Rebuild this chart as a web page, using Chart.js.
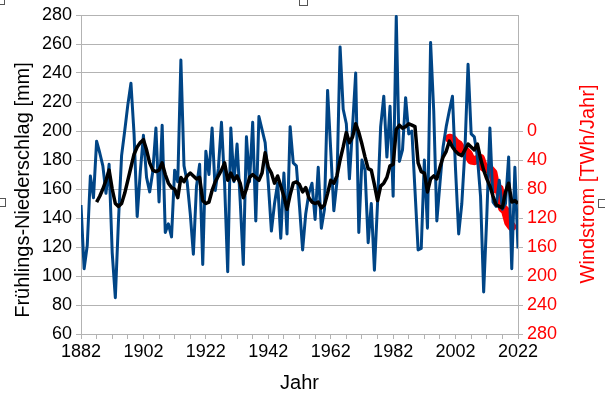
<!DOCTYPE html>
<html>
<head>
<meta charset="utf-8">
<script src="https://cdn.jsdelivr.net/npm/chart.js@4.4.1/dist/chart.umd.min.js"></script>
<style>
  html, body { margin: 0; padding: 0; background: #fff; }
  #wrap { position: relative; width: 605px; height: 397px; overflow: hidden; }
  .handle { position: absolute; width: 7px; height: 7px; border: 1px solid #555; background: #fff; }
</style>
</head>
<body>
<div id="wrap">
  <canvas id="rainChart" width="605" height="397"></canvas>
  <div class="handle" style="left:-4px;top:-4px"></div>
  <div class="handle" style="left:299px;top:-3px"></div>
  <div class="handle" style="left:-3px;top:198px"></div>
  <div class="handle" style="left:598px;top:199px"></div>
</div>
<script>
// spring precipitation per year, 1882..2022 [mm]
var firstYear = 1882;
var rain = [
  149, 105, 121, 169, 154, 193, 185, 176, 157, 177,
  116, 85, 138, 183, 200, 218, 233, 198, 141, 172,
  197, 168, 158, 172, 202, 151, 204, 130, 136, 127,
  173, 165, 249, 176, 165, 143, 115, 162, 177, 108,
  186, 170, 202, 159, 174, 206, 164, 103, 202, 165,
  191, 152, 108, 196, 165, 206, 138, 210, 201, 192,
  164, 131, 150, 164, 126, 171, 129, 203, 178, 176,
  148, 118, 143, 157, 164, 139, 175, 133, 146, 228,
  187, 145, 165, 258, 215, 205, 167, 203, 240, 130,
  180, 173, 123, 150, 104, 150, 203, 224, 182, 217,
  155, 279, 179, 187, 223, 198, 200, 159, 118, 119,
  180, 133, 261, 214, 138, 164, 189, 203, 214, 224,
  173, 129, 150, 187, 246, 198, 196, 182, 155, 89,
  141, 202, 151, 148, 166, 146, 150, 182, 105, 175,
  119
];

// running mean as drawn (black), 1887..2022
var meanStart = 1887;
var rainMean = [
  151, 155, 160, 166, 173, 160, 150, 148, 150, 157,
  166, 175, 184, 189, 192, 194, 187, 178, 173, 172,
  173, 178, 170, 164, 161, 160, 154, 168, 165, 169,
  171, 169, 167, 168, 152, 150, 151, 159, 165, 169,
  173, 178, 166, 171, 166, 169, 164, 154, 160, 168,
  170, 168, 166, 171, 185, 175, 171, 164, 169, 162,
  155, 146, 156, 164, 165, 163, 158, 161, 154, 151,
  150, 151, 147, 149, 157, 166, 164, 169, 180, 189,
  199, 192, 196, 205, 199, 191, 182, 174, 173, 163,
  152, 162, 164, 168, 176, 177, 201, 204, 202, 203,
  205, 204, 203, 178, 172, 171, 158, 167, 169, 167,
  175, 182, 186, 193, 189, 186, 184, 183, 187, 191,
  189, 187, 191, 181, 173, 167, 162, 155, 149, 148,
  147, 158, 164, 151, 152, 150
];

// wind power [TWh/year], 2000..2020
var windStart = 2000;
var wind = [10, 11, 16, 19, 26, 27, 31, 40, 41, 39, 38, 50, 52, 53, 58, 80, 80, 106, 110, 126, 132];

var xTicks = [];
for (var t = 1882; t <= 2022; t += 5) xTicks.push(t);

var leftTitle = 'Frühlings-Niederschlag [mm]';
var rightTitle = 'Windstrom [TWh/Jahr]';

function toPoints(start, values) {
  return values.map(function(v, i) { return { x: start + i, y: v }; });
}

var fontFamily = '"Liberation Sans", Arial, sans-serif';
var gridGray = '#b3b3b3';

// y axis titles drawn by hand so both read bottom-to-top
var axisTitles = {
  id: 'axisTitles',
  afterDraw: function(chart) {
    var ctx = chart.ctx;
    ctx.save();
    ctx.font = '20px ' + fontFamily;
    ctx.textAlign = 'center';
    ctx.textBaseline = 'middle';
    ctx.fillStyle = '#000000';
    ctx.translate(23, 190);
    ctx.rotate(-Math.PI / 2);
    ctx.fillText(leftTitle, 0, 0);
    ctx.restore();
    ctx.save();
    ctx.font = '20px ' + fontFamily;
    ctx.textAlign = 'center';
    ctx.textBaseline = 'middle';
    ctx.fillStyle = '#ff0000';
    ctx.translate(588, 184);
    ctx.rotate(-Math.PI / 2);
    ctx.fillText(rightTitle, 0, 0);
    ctx.restore();
  }
};

Chart.defaults.font.family = fontFamily;

var ctx = document.getElementById('rainChart').getContext('2d');
new Chart(ctx, {
  type: 'line',
  data: {
    datasets: [
      {
        data: toPoints(meanStart, rainMean),
        borderColor: '#000000',
        borderWidth: 3.5,
        yAxisID: 'y',
        order: 0
      },
      {
        data: toPoints(firstYear, rain),
        borderColor: '#004586',
        borderWidth: 3,
        yAxisID: 'y',
        order: 1
      },
      {
        data: toPoints(windStart, wind),
        borderColor: '#ff0000',
        borderWidth: 9,
        borderCapStyle: 'round',
        yAxisID: 'y2',
        order: 2
      }
    ]
  },
  options: {
    responsive: false,
    animation: false,
    layout: { padding: { top: 15, left: 0, right: 0, bottom: 0 } },
    elements: {
      point: { radius: 0 },
      line: { tension: 0, borderJoinStyle: 'round', fill: false }
    },
    plugins: { legend: { display: false }, tooltip: { enabled: false } },
    scales: {
      x: {
        type: 'linear',
        min: 1882,
        max: 2022,
        afterBuildTicks: function(s) { s.ticks = xTicks.map(function(v) { return { value: v }; }); },
        afterFit: function(s) { s.height = 63; },
        ticks: {
          autoSkip: false,
          maxRotation: 0,
          padding: 2,
          color: '#000000',
          font: { size: 18 },
          callback: function(v) { return (v - 1882) % 20 === 0 ? String(v) : ''; }
        },
        grid: { drawOnChartArea: false, tickLength: 5, color: gridGray },
        border: { color: gridGray },
        title: {
          display: true,
          text: 'Jahr',
          color: '#000000',
          font: { size: 20, lineHeight: 1.2 },
          padding: { top: 0, bottom: 2 }
        }
      },
      y: {
        position: 'left',
        min: 60,
        max: 280,
        afterFit: function(s) { s.width = 81; },
        ticks: { stepSize: 20, padding: 4, color: '#000000', font: { size: 18 } },
        grid: { color: gridGray, tickLength: 5 },
        border: { color: gridGray }
      },
      y2: {
        position: 'right',
        min: -160,
        max: 280,
        reverse: true,
        afterFit: function(s) { s.width = 87; },
        ticks: {
          stepSize: 40,
          padding: 4,
          color: '#ff0000',
          font: { size: 18 },
          callback: function(v) { return v >= 0 ? String(v) : ''; }
        },
        grid: {
          drawOnChartArea: false,
          tickLength: 5,
          color: gridGray,
          tickColor: function(c) { return c.tick && c.tick.value < 0 ? 'rgba(0,0,0,0)' : gridGray; }
        },
        border: { color: gridGray }
      }
    }
  },
  plugins: [axisTitles]
});
</script>
</body>
</html>
